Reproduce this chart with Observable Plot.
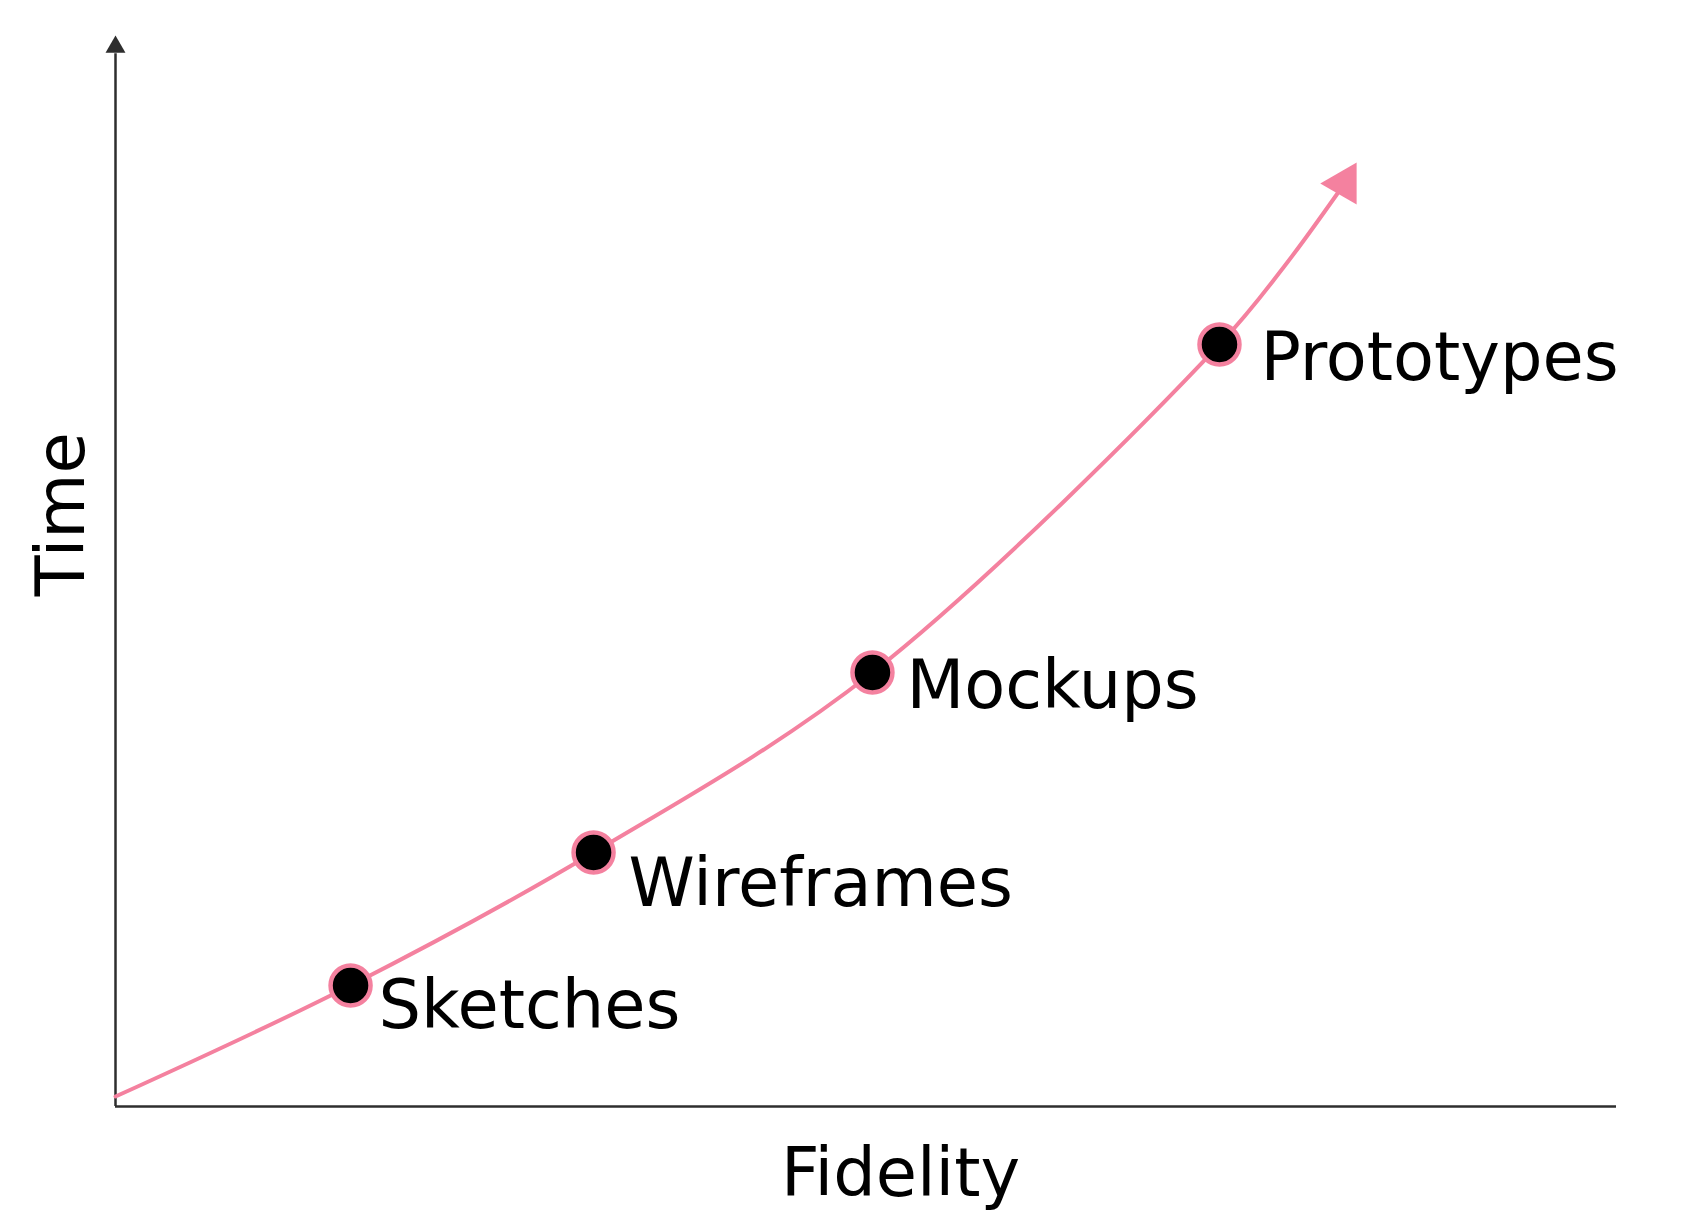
<!DOCTYPE html>
<html><head><meta charset="utf-8">
<script src="https://cdn.jsdelivr.net/npm/d3@7"></script>
<script src="https://cdn.jsdelivr.net/npm/@observablehq/plot@0.6"></script>
<style>html,body{margin:0;padding:0;background:#fff}</style>
</head><body><div id="chart"></div>
<script>
// Stages (points on the curve)
const stageNames = ["Sketches", "Wireframes", "Mockups", "Prototypes"];
const stageFidelity = [15.66, 31.85, 50.43, 73.55];
const stageTime = [11.30, 23.72, 40.52, 71.15];
// Curve trace
const curveFidelity = [0, 15.66, 31.85, 50.43, 73.55, 77.81, 81.41];
const curveTime = [0.93, 11.30, 23.72, 40.52, 71.15, 78.34, 85.25];
// Arrow head at curve end
const arrowFidelity = [81.88];
const arrowTime = [86.18];
// Axis titles
const xTitle = ["Fidelity"];
const yTitle = ["Time"];

const pink = "#f4819f";
const axisColor = "#2e2e2e";
const font = "DejaVu Sans";
const fs = 67;

const stages = stageNames.map((n, i) => ({name: n, x: stageFidelity[i], y: stageTime[i]}));
const curve = curveFidelity.map((x, i) => ({x, y: curveTime[i]}));
const arrow = arrowFidelity.map((x, i) => ({x, y: arrowTime[i]}));
const labelOffsets = [[28, 43], [35, 54], [34, 35], [41, 36]];

const chart = Plot.plot({
  width: 1705,
  height: 1230,
  marginLeft: 115,
  marginRight: 89,
  marginTop: 35,
  marginBottom: 124,
  x: {domain: [0, 100], axis: null},
  y: {domain: [0, 100], axis: null},
  style: {background: "#fff", fontFamily: font, color: "#000"},
  marks: [
    Plot.ruleX([0], {y1: 0, y2: 98.3, stroke: axisColor, strokeWidth: 2.5}),
    Plot.ruleY([0], {x1: 0, x2: 100, stroke: axisColor, strokeWidth: 2.5}),
    Plot.dot([{x: 0, y: 98.93}], {x: "x", y: "y", symbol: "triangle", r: 7.4, fill: axisColor, stroke: "none"}),
    Plot.line(curve, {x: "x", y: "y", curve: "catmull-rom", stroke: pink, strokeWidth: 4}),
    Plot.dot(arrow, {x: "x", y: "y", symbol: "triangle", r: 15.6, rotate: 30, fill: pink, stroke: "none"}),
    Plot.dot(stages, {x: "x", y: "y", r: 20, fill: "#000", stroke: pink, strokeWidth: 4.5}),
    ...stages.map((d, i) => Plot.text([d], {
      x: "x", y: "y", text: "name", textAnchor: "start", lineAnchor: "bottom",
      dx: labelOffsets[i][0], dy: labelOffsets[i][1], fontSize: fs, fill: "#000"
    })),
    Plot.text(xTitle, {x: () => 52.3, y: () => 0, text: d => d, textAnchor: "middle", lineAnchor: "bottom", dy: 89, fontSize: fs, fill: "#000"}),
    Plot.text(yTitle, {x: () => 0, y: () => 55.3, text: d => d, rotate: -90, textAnchor: "middle", lineAnchor: "bottom", dx: -32, fontSize: fs, fill: "#000"})
  ]
});
document.getElementById("chart").appendChild(chart);
</script>
</body></html>
